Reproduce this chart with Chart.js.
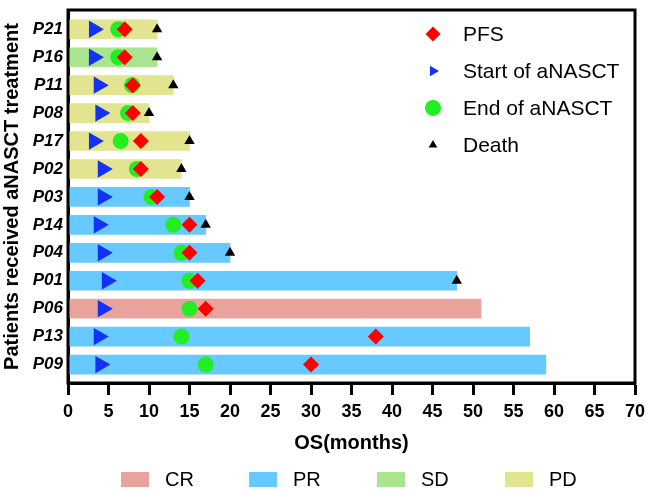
<!DOCTYPE html>
<html>
<head>
<meta charset="utf-8">
<script src="https://cdn.jsdelivr.net/npm/chart.js@4.4.1/dist/chart.umd.min.js"></script>
<style>
  html, body { margin: 0; padding: 0; background: #fff; }
</style>
</head>
<body>
<canvas id="osChart" width="646" height="489"></canvas>
<script>
// patients from top to bottom
const patients = ["P21", "P16", "P11", "P08", "P17", "P02", "P03", "P14", "P04", "P01", "P06", "P13", "P09"];
const response = ["PD", "SD", "PD", "PD", "PD", "PD", "PR", "PR", "PR", "PR", "CR", "PR", "PR"];
const osMonths = [11, 11, 13, 10, 15, 14, 15, 17, 20, 48, 51, 57, 59];
const startMonths = [3.2, 3.2, 3.8, 4, 3.2, 4.3, 4.3, 3.8, 4.3, 4.8, 4.3, 3.8, 4];
const endMonths = [6.2, 6.2, 7.9, 7.4, 6.5, 8.5, 10.3, 13, 14, 15, 15, 14, 17];
const pfsMonths = [7, 7, 8, 8, 9, 9, 11, 15, 15, 16, 17, 38, 30];
const deathMonths = [11, 11, 13, 10, 15, 14, 15, 17, 20, 48, null, null, null];
const xTicks = [0, 5, 10, 15, 20, 25, 30, 35, 40, 45, 50, 55, 60, 65, 70];

const statusLabels = ["CR", "PR", "SD", "PD"];
const statusColors = ["#E8A39C", "#66C9FF", "#A8E58E", "#E3E48F"];

function points(values) {
  return values.map((v, i) => (v === null ? null : { x: v, y: i })).filter(Boolean);
}

const barSets = statusLabels.map((s, k) => ({
  type: "bar",
  label: s,
  indexAxis: "y",
  grouped: false,
  barThickness: 19,
  backgroundColor: statusColors[k],
  borderWidth: 0,
  order: 10,
  data: patients.map((p, i) => (response[i] === s ? { x: osMonths[i], y: i } : null)).filter(Boolean),
}));

const markerSets = [
  { label: "PFS", data: points(pfsMonths), pointStyle: "rectRot", pointRadius: 8, rotation: 0, color: "#FF0000", order: 1 },
  { label: "Start of aNASCT", data: points(startMonths), pointStyle: "triangle", pointRadius: 10, rotation: 90, color: "#1432F5", order: 3 },
  { label: "End of aNASCT", data: points(endMonths), pointStyle: "circle", pointRadius: 8, rotation: 0, color: "#22EE22", order: 2 },
  { label: "Death", data: points(deathMonths), pointStyle: "triangle", pointRadius: 6, rotation: 0, color: "#000000", order: 4 },
];

// legend sizes for the marker box inside the plot
const markerLegendRadius = [7.5, 6, 8, 5];

const scatterSets = markerSets.map((m) => ({
  type: "scatter",
  label: m.label,
  data: m.data,
  pointStyle: m.pointStyle,
  pointRadius: m.pointRadius,
  pointRotation: m.rotation,
  pointBackgroundColor: m.color,
  pointBorderWidth: 0,
  order: m.order,
}));

// frame round the plot area
const framePlugin = {
  id: "frame",
  afterDraw(chart) {
    const { ctx, chartArea: a } = chart;
    ctx.save();
    ctx.strokeStyle = "#000";
    ctx.lineWidth = 3;
    ctx.strokeRect(a.left, a.top, a.right - a.left, a.bottom - a.top);
    ctx.restore();
  },
};

// symbol legend top right + response legend at bottom
const legendPlugin = {
  id: "legends",
  afterDraw(chart) {
    const ctx = chart.ctx;
    ctx.save();
    ctx.textBaseline = "middle";
    ctx.textAlign = "left";
    ctx.font = "21px 'Liberation Sans', Arial, sans-serif";
    ctx.fillStyle = "#000";
    markerSets.forEach((m, i) => {
      const y = 34 + i * 37;
      ctx.fillStyle = m.color;
      Chart.helpers.drawPoint(ctx, { pointStyle: m.pointStyle, radius: markerLegendRadius[i], rotation: m.rotation, borderWidth: 0 }, 433, y);
      ctx.fillStyle = "#000";
      ctx.fillText(m.label, 463, y + 1);
    });

    ctx.font = "20px 'Liberation Sans', Arial, sans-serif";
    statusLabels.forEach((s, k) => {
      const x = 121 + k * 128;
      ctx.fillStyle = statusColors[k];
      ctx.fillRect(x, 472, 28, 15);
      ctx.fillStyle = "#000";
      ctx.fillText(s, x + 44, 480);
    });
    ctx.restore();
  },
};

new Chart(document.getElementById("osChart"), {
  type: "bar",
  data: { datasets: [...scatterSets, ...barSets] },
  plugins: [framePlugin, legendPlugin],
  options: {
    responsive: false,
    animation: false,
    layout: { padding: { top: 3, right: 11, bottom: 34, left: 0 } },
    plugins: { legend: { display: false }, tooltip: { enabled: false } },
    scales: {
      x: {
        type: "linear",
        offset: false,
        min: 0,
        max: 70,
        afterFit(scale) {
          scale.height = 72;
          scale.paddingLeft = 0;
          scale.paddingRight = 0;
        },
        afterBuildTicks(scale) { scale.ticks = xTicks.map((v) => ({ value: v })); },
        border: { display: true, color: "#000", width: 3 },
        grid: { display: true, offset: false, drawOnChartArea: false, drawTicks: true, tickLength: 12, tickWidth: 3, tickColor: "#000" },
        ticks: { color: "#000", padding: 6, font: { family: "'Liberation Sans', Arial, sans-serif", size: 18, weight: "bold" } },
        title: {
          display: true,
          text: "OS(months)",
          color: "#000",
          padding: 0,
          font: { family: "'Liberation Sans', Arial, sans-serif", size: 20, weight: "bold" },
        },
      },
      y: {
        type: "linear",
        offset: false,
        reverse: true,
        min: -0.69,
        max: 12.66,
        afterFit(scale) {
          scale.width = 68;
          scale.paddingTop = 0;
          scale.paddingBottom = 0;
        },
        afterBuildTicks(scale) { scale.ticks = patients.map((p, i) => ({ value: i })); },
        border: { display: true, color: "#000", width: 3 },
        grid: { display: false, drawTicks: false },
        ticks: {
          color: "#000",
          padding: 5,
          callback: (v) => patients[v],
          font: { family: "'Liberation Sans', Arial, sans-serif", size: 17, weight: "bold", style: "italic" },
        },
        title: {
          display: true,
          text: "Patients received aNASCT treatment",
          color: "#000",
          padding: 0,
          font: { family: "'Liberation Sans', Arial, sans-serif", size: 20, weight: "bold" },
        },
      },
    },
  },
});
</script>
</body>
</html>
